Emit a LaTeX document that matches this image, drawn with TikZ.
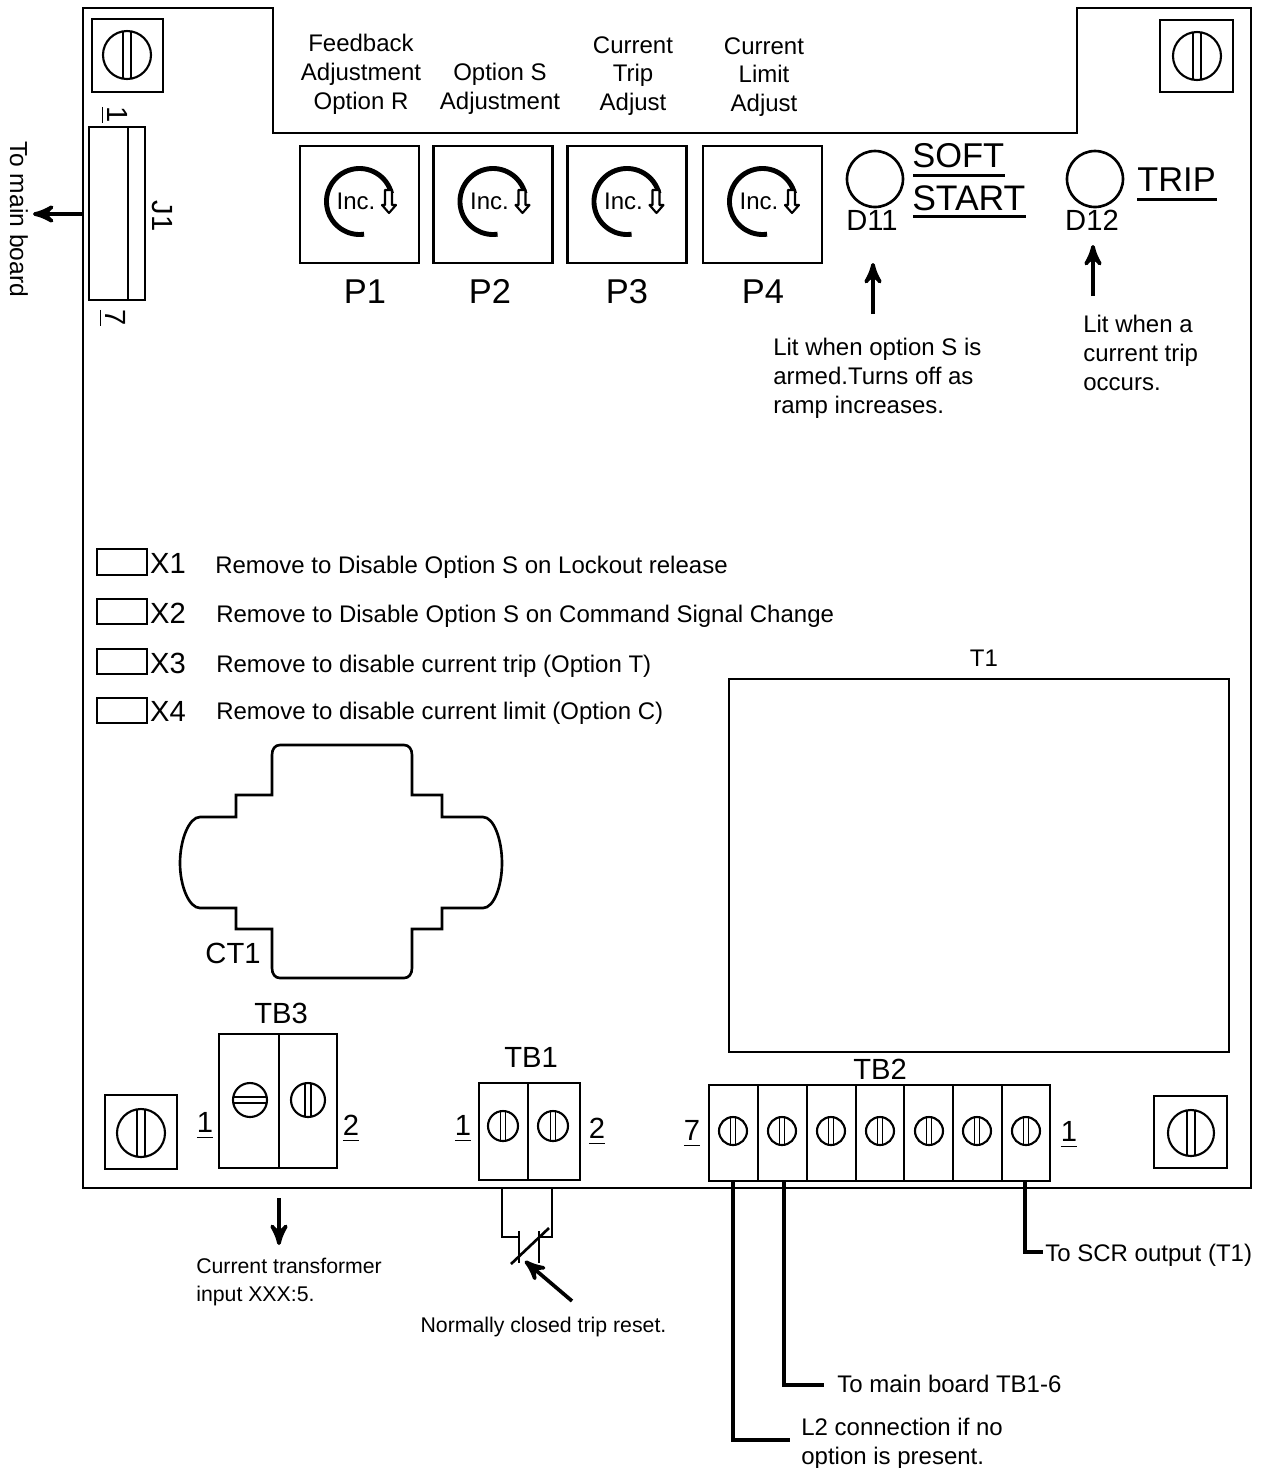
\documentclass[tikz,border=0pt]{standalone}
\usepackage{fontspec}
\setmainfont{Liberation Sans}
\usetikzlibrary{arrows}
\tikzset{
         lbl/.style={font=\fontsize{6.83}{8.2}\selectfont,align=center,inner sep=0pt,yshift=-.02cm},
         lblleft/.style={lbl,align=left,anchor=west,xshift=-.02cm},
         small/.style={lblleft,font=\fontsize{6.05}{7.8}\selectfont},
         mid/.style={font=\fontsize{8.3}{9}\selectfont,inner sep=0pt},
         big/.style={font=\fontsize{9.8}{11}\selectfont,inner sep=0pt},
         ptr/.style={line width=1.05pt,-stealth'},
         wire/.style={line width=1.2pt},
         rule/.style={line width=.85pt},
         screw/.pic={
           \draw[line width=.6pt](0,0)circle(#1);
           \draw[line width=#1*2.6pt](-.17*#1,-.97*#1)--(-.17*#1,.97*#1)(.17*#1,-.97*#1)--(.17*#1,.97*#1);
         },
         potbox/.pic={
           \draw[line width=.75pt](-.595,-.585)rectangle(.595,.585);
           \draw[line width=1.4pt](.32,-.11)arc(-14:-278:.33);
           \node[lbl]at(-.035,-.05){Inc.};
           \draw[line width=.6pt,fill=white,line join=round](.255,-.145)--(.255,.005)--(.225,.005)--(.295,.085)--(.365,.005)--(.325,.005)--(.325,-.145)--cycle;
         }
        }

\begin{document}
\begin{tikzpicture}[x=1cm,y=-1cm,line width=.75pt]
\useasboundingbox(0,0)rectangle(12.64,14.68);
\draw(.83,.08)--(2.73,.08)--(2.73,1.33)--(10.77,1.33)--(10.77,.08)--(12.51,.08)--(12.51,11.88)--(.83,11.88)--cycle; %board
%corner screws
\draw(.92,.19)rectangle(1.63,.92);
\pic at(1.27,.55){screw=.24};
\draw(11.6,.2)rectangle(12.33,.92);
\pic at(11.97,.56){screw=.24};
\draw(1.05,10.95)rectangle(1.77,11.69);
\pic at(1.41,11.33){screw=.24};
\draw(11.54,10.96)rectangle(12.27,11.68);
\pic at(11.91,11.33){screw=.23};
%J1
\draw(.89,1.27)rectangle(1.45,3);
\draw(1.28,1.27)--(1.28,3);
\node[mid,rotate=-90](j1a)at(1.14,1.15){\underline{1}};
\node[mid,rotate=-90](j1b)at(1.12,3.18){\underline{7}};
\node[mid,rotate=-90](j1)at(1.62,2.16){J1};
\node[lbl,font=\fontsize{7}{8}\selectfont,rotate=-90](main)at(.19,2.17){To main board};
\coordinate(j1out)at(.83,2.14);
\coordinate(j1tip)at(.33,2.14);
\draw[ptr](j1out)--(j1tip);
%pots
\pic at(3.595,2.045){potbox};
\pic at(4.93,2.045){potbox};
\pic at(6.27,2.045){potbox};
\pic at(7.625,2.045){potbox};
\node[big](p1)at(3.65,2.915){P1};
\node[big](p2)at(4.9,2.915){P2};
\node[big](p3)at(6.27,2.915){P3};
\node[big](p4)at(7.63,2.915){P4};
%pot labels
\node[lbl](fb)at(3.61,.72){Feedback\\Adjustment\\Option R};
\node[lbl](os)at(5,.865){Option S\\Adjustment};
\node[lbl](ct)at(6.33,.74){Current\\Trip\\Adjust};
\node[lbl](cl)at(7.64,.75){Current\\Limit\\Adjust};
%leds
\node[draw,circle,minimum size=.56cm,inner sep=0pt](d11)at(8.75,1.79){};
\node[draw,circle,minimum size=.56cm,inner sep=0pt](d12)at(10.95,1.79){};
\node[mid](d11t)at(8.72,2.2){D11};
\node[mid](d12t)at(10.92,2.2){D12};
\node[big,anchor=west](soft)at(9.11,1.56){SOFT};
\draw[rule](9.13,1.75)--(10.05,1.75);
\node[big,font=\fontsize{10.1}{11}\selectfont,anchor=west](start)at(9.11,1.98){START};
\draw[rule](9.13,2.16)--(10.26,2.16);
\node[big,anchor=west](trip)at(11.36,1.8){TRIP};
\draw[rule](11.37,1.99)--(12.17,1.99);
\coordinate(d11a)at(8.73,3.14);
\coordinate(d11b)at(8.73,2.63);
\coordinate(d12a)at(10.93,2.96);
\coordinate(d12b)at(10.93,2.45);
\draw[ptr](d11a)--(d11b);
\draw[ptr](d12a)--(d12b);
\node[lblleft](lit1)at(7.74,3.76){Lit when option S is\\armed.Turns off as\\ramp increases.};
\node[lblleft](lit2)at(10.84,3.51){Lit when a\\current trip\\occurs.};
%jumpers
\draw(.97,5.49)rectangle(1.47,5.75);
\draw(.97,5.99)rectangle(1.47,6.24);
\draw(.97,6.49)rectangle(1.47,6.74);
\draw(.97,6.98)rectangle(1.47,7.23);
\node[mid](x1)at(1.68,5.63){X1};
\node[mid](x2)at(1.68,6.13){X2};
\node[mid](x3)at(1.68,6.63){X3};
\node[mid](x4)at(1.68,7.11){X4};
\node[lblleft](x1t)at(2.16,5.65){Remove to Disable Option S on Lockout release};
\node[lblleft](x2t)at(2.17,6.14){Remove to Disable Option S on Command Signal Change};
\node[lblleft](x3t)at(2.17,6.64){Remove to disable current trip (Option T)};
\node[lblleft](x4t)at(2.17,7.11){Remove to disable current limit (Option C)};
%T1
\draw(7.29,6.79)rectangle(12.29,10.52);
\node[lbl,yshift=.02cm](t1)at(9.84,6.58){T1};
%CT1
\draw(2.72,7.95)--(2.72,7.55)..controls(2.72,7.49)and(2.75,7.45)..(2.8,7.45)--(4.04,7.45)..controls(4.09,7.45)and(4.12,7.49)..(4.12,7.55)--(4.12,7.95)--(4.42,7.95)--(4.42,8.17)--(4.83,8.17)
 ..controls(4.94,8.17)and(5.02,8.4)..(5.02,8.63)..controls(5.02,8.86)and(4.94,9.08)..(4.83,9.08)--(4.42,9.08)--(4.42,9.29)--(4.12,9.29)--(4.12,9.68)..controls(4.12,9.74)and(4.09,9.78)..(4.04,9.78)
 --(2.8,9.78)..controls(2.75,9.78)and(2.72,9.74)..(2.72,9.68)--(2.72,9.29)--(2.36,9.29)--(2.36,9.08)--(2,9.08)
 ..controls(1.89,9.08)and(1.8,8.86)..(1.8,8.63)..controls(1.8,8.4)and(1.89,8.17)..(2,8.17)--(2.36,8.17)--(2.36,7.95)--cycle;
\node[mid](ct1)at(2.33,9.53){CT1};
%TB3
\draw(2.19,10.34)rectangle(3.37,11.68);
\draw(2.79,10.34)--(2.79,11.68);
\pic[rotate=90]at(2.5,11){screw=.17};
\pic at(3.08,11){screw=.17};
\node[mid](tb3)at(2.81,10.13){TB3};
\node[mid](tb3a)at(2.05,11.26){\underline{1}};
\node[mid](tb3b)at(3.51,11.29){\underline{2}};
\coordinate(cta)at(2.79,11.98);
\coordinate(ctb)at(2.79,12.45);
\draw[ptr](cta)--(ctb);
\node[small](ctt)at(1.97,12.8){Current transformer\\input XXX:5.};
%TB1
\draw(4.79,10.83)rectangle(5.8,11.8);
\draw(5.28,10.83)--(5.28,11.8);
\pic at(5.03,11.26){screw=.15};
\pic at(5.53,11.26){screw=.15};
\node[mid](tb1)at(5.31,10.57){TB1};
\node[mid](tb1a)at(4.63,11.29){\underline{1}};
\node[mid](tb1b)at(5.97,11.32){\underline{2}};
\draw(5.02,11.88)--(5.02,12.37)--(5.19,12.37);
\draw(5.52,11.88)--(5.52,12.37)--(5.39,12.37);
\draw(5.19,12.31)--(5.19,12.63);
\draw(5.39,12.31)--(5.39,12.63);
\draw(5.11,12.64)--(5.49,12.28);
\coordinate(nca)at(5.72,13.01);
\coordinate(ncb)at(5.25,12.61);
\draw[ptr](nca)--(ncb);
\node[small,align=center,anchor=center,xshift=.02cm](nc)at(5.435,13.25){Normally closed trip reset.};
%TB2
\draw(7.09,10.85)rectangle(10.5,11.81);
\foreach \x in {7.58,8.07,8.56,9.04,9.53,10.02}
 \draw(\x,10.85)--(\x,11.81);
\foreach \x in {7.33,7.82,8.31,8.8,9.29,9.77,10.26}
 \pic at(\x,11.31){screw=.14};
\node[mid](tb2)at(8.8,10.69){TB2};
\node[mid](tb2a)at(6.92,11.34){\underline{7}};
\node[mid](tb2b)at(10.69,11.35){\underline{1}};
\coordinate(w7)at(7.33,11.81);
\coordinate(w6)at(7.84,11.81);
\coordinate(w1)at(10.25,11.81);
\node[lblleft](scr)at(10.46,12.53){To SCR output (T1)};
\node[lblleft](mb)at(8.38,13.82){To main board TB1-6};
\node[lblleft](l2)at(8.02,14.415){L2 connection if no\\option is present.};
\draw[wire](w7)--(7.33,14.4)--(7.9,14.4);
\draw[wire](w6)--(7.84,13.85)--(8.24,13.85);
\draw[wire](w1)--(10.25,12.52)--(10.43,12.52);
\end{tikzpicture}
\end{document}
